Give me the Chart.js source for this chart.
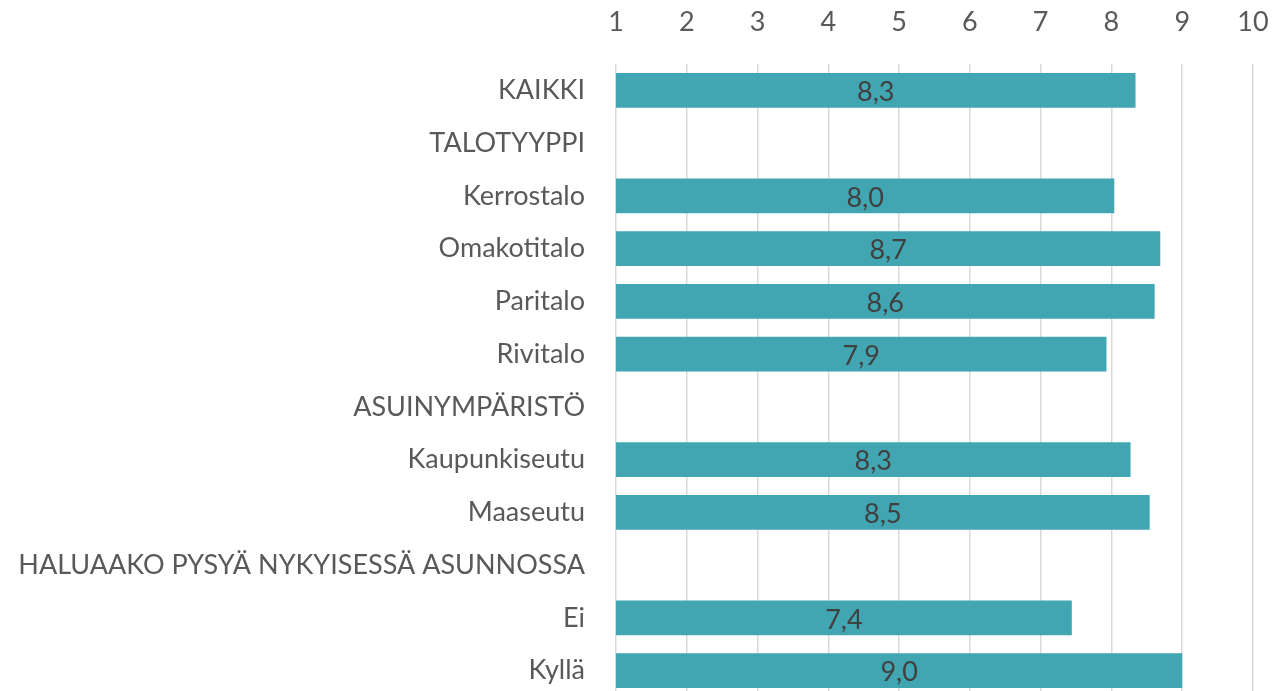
<!DOCTYPE html>
<html>
<head>
<meta charset="utf-8">
<script src="https://cdn.jsdelivr.net/npm/chart.js@4.4.1/dist/chart.umd.min.js"></script>
<style>
  html, body { margin: 0; padding: 0; background: #fff; overflow: hidden; }
  #wrap { width: 1274px; height: 691px; overflow: hidden; }
</style>
</head>
<body>
<div id="wrap"><canvas id="scoreChart" width="1274" height="697"></canvas></div>
<script>
const categories = [
    'KAIKKI', 'TALOTYYPPI', 'Kerrostalo', 'Omakotitalo', 'Paritalo', 'Rivitalo',
    'ASUINYMPÄRISTÖ', 'Kaupunkiseutu', 'Maaseutu',
    'HALUAAKO PYSYÄ NYKYISESSÄ ASUNNOSSA', 'Ei', 'Kyllä'
];
// header rows have no bar
const scores = [8.34, null, 8.04, 8.69, 8.61, 7.93, null, 8.27, 8.54, null, 7.44, 9.0];
const xTicks = [1, 2, 3, 4, 5, 6, 7, 8, 9, 10];

const FONT = "Lato, 'Open Sans', sans-serif";

// draws the value in the middle of the visible bar, Finnish decimal comma
const barLabels = {
    id: 'barLabels',
    afterDatasetsDraw(chart) {
        const ctx = chart.ctx;
        const meta = chart.getDatasetMeta(0);
        const left = chart.chartArea.left;
        ctx.save();
        ctx.font = '27px ' + FONT;
        ctx.fillStyle = '#404040';
        ctx.textAlign = 'center';
        ctx.textBaseline = 'middle';
        meta.data.forEach((bar, i) => {
            const v = scores[i];
            if (v === null) return;
            const x = (bar.x + Math.max(bar.base, left)) / 2;
            ctx.fillText(v.toFixed(1).replace('.', ','), x, bar.y + 2);
        });
        ctx.restore();
    }
};

// keep the plot area where the original had it, no auto padding for labels
function noPad(scale) {
    scale.paddingLeft = 0;
    scale.paddingRight = 0;
    scale.paddingTop = 0;
    scale.paddingBottom = 0;
}

Chart.defaults.font.family = FONT;
Chart.defaults.color = '#595959';

new Chart(document.getElementById('scoreChart'), {
    type: 'bar',
    data: {
        labels: categories,
        datasets: [{
            data: scores,
            backgroundColor: '#41a6b2',
            barPercentage: 0.66,
            categoryPercentage: 1.0
        }]
    },
    options: {
        indexAxis: 'y',
        responsive: false,
        animation: false,
        layout: { padding: { top: 0, right: 21, left: 0, bottom: 0 } },
        scales: {
            x: {
                position: 'top',
                min: 1,
                max: 10,
                afterBuildTicks: (scale) => { scale.ticks = xTicks.map(v => ({ value: v })); },
                afterFit: (scale) => { scale.height = 64; noPad(scale); },
                grid: { color: '#d9d9d9', lineWidth: 1.5, drawTicks: false },
                border: { display: false },
                ticks: { font: { size: 27 }, color: '#595959', padding: 26 }
            },
            y: {
                afterFit: (scale) => { scale.width = 616; noPad(scale); },
                grid: { display: false, drawTicks: false },
                border: { display: false },
                ticks: { font: { size: 27 }, color: '#595959', padding: 31 }
            }
        },
        plugins: {
            legend: { display: false },
            tooltip: { enabled: false }
        }
    },
    plugins: [barLabels]
});
</script>
</body>
</html>
